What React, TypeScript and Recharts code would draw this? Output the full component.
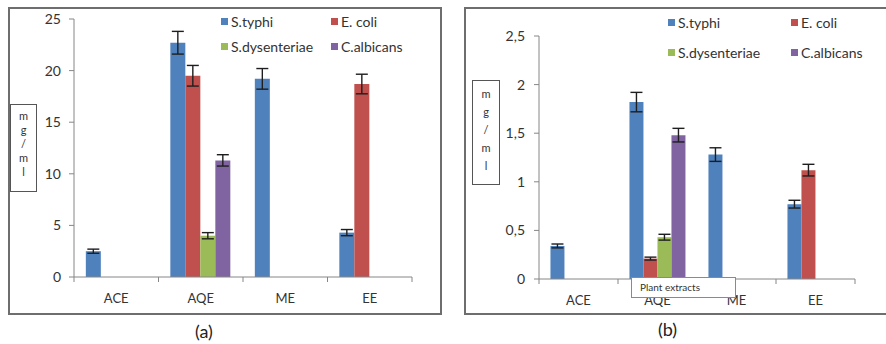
import React from "react";
import { Bar, BarChart, ErrorBar, Legend, XAxis, YAxis } from "recharts";

const categories = ["ACE", "AQE", "ME", "EE"];

// panel (a)
const typhiA = [2.5, 22.7, 19.2, 4.3];
const typhiErrA = [0.2, 1.1, 1.0, 0.3];
const ecoliA = [null, 19.5, null, 18.7];
const ecoliErrA = [null, 1.0, null, 0.95];
const dysA = [null, 4.0, null, null];
const dysErrA = [null, 0.3, null, null];
const albA = [null, 11.3, null, null];
const albErrA = [null, 0.55, null, null];
const ticksA = [0, 5, 10, 15, 20, 25];

// panel (b)
const typhiB = [0.34, 1.82, 1.28, 0.77];
const typhiErrB = [0.02, 0.1, 0.07, 0.04];
const ecoliB = [null, 0.21, null, 1.12];
const ecoliErrB = [null, 0.015, null, 0.06];
const dysB = [null, 0.43, null, null];
const dysErrB = [null, 0.03, null, null];
const albB = [null, 1.48, null, null];
const albErrB = [null, 0.07, null, null];
const ticksB = [0, 0.5, 1, 1.5, 2, 2.5];

const series = [
  { key: "typhi", name: "S.typhi", color: "#4F81BD" },
  { key: "ecoli", name: "E. coli", color: "#C0504D" },
  { key: "dys", name: "S.dysenteriae", color: "#9BBB59" },
  { key: "alb", name: "C.albicans", color: "#8064A2" },
];

const unitLetters = ["m", "g", "/", "m", "l"];

const FONT = "Lato, 'Open Sans', sans-serif";
const AXIS = "#868686";
const TEXT = "#333";

function buildRows(values: (number | null)[][], errors: (number | null)[][]) {
  return categories.map((name, i) => {
    const row: Record<string, string | number | null> = { name };
    series.forEach((s, k) => {
      row[s.key] = values[k][i];
      row[s.key + "Err"] = errors[k][i];
    });
    return row;
  });
}

const dataA = buildRows([typhiA, ecoliA, dysA, albA], [typhiErrA, ecoliErrA, dysErrA, albErrA]);
const dataB = buildRows([typhiB, ecoliB, dysB, albB], [typhiErrB, ecoliErrB, dysErrB, albErrB]);

// category label centred in its band, with the boundary tick on the left edge
function CategoryTick(props: any) {
  const { x, y, payload, index, visibleTicksCount } = props;
  const half = payload.offset ?? 0;
  const last = index === visibleTicksCount - 1;
  return (
    <g>
      <line x1={x - half} x2={x - half} y1={y} y2={y + 5} stroke={AXIS} />
      {last && <line x1={x + half} x2={x + half} y1={y} y2={y + 5} stroke={AXIS} />}
      <text x={x} y={y + 21} textAnchor="middle" dominantBaseline="central" fill={TEXT} fontSize={13} fontFamily={FONT}>
        {payload.value}
      </text>
    </g>
  );
}

// two-column legend, kept in series order
function LegendGrid({ payload, colWidth, rowHeight }: any) {
  const order = (v: string) => series.findIndex((s) => s.name === v);
  const items = [...(payload || [])].sort((a: any, b: any) => order(a.value) - order(b.value));
  return (
    <div style={{ display: "grid", gridTemplateColumns: `${colWidth}px ${colWidth}px`, gridAutoRows: rowHeight, fontFamily: FONT, fontSize: 14, color: TEXT }}>
      {items.map((p: any) => (
        <div key={p.value} style={{ display: "flex", alignItems: "center", whiteSpace: "nowrap" }}>
          <span style={{ width: 7, height: 7, background: p.color, marginRight: 3, display: "inline-block" }} />
          {p.value}
        </div>
      ))}
    </div>
  );
}

interface PanelProps {
  data: any[];
  ticks: number[];
  left: number;
  margin: { top: number; right: number; bottom: number; left: number };
  tickFormatter?: (v: number) => string;
  tickMargin: number;
  legendPos: { left: number; top: number; colWidth: number; rowHeight: number };
  gap: string;
}

function Panel({ data, ticks, left, margin, tickFormatter, tickMargin, legendPos, gap }: PanelProps) {
  return (
    <div style={{ position: "absolute", left, top: 0 }}>
      <BarChart width={443} height={344} data={data} margin={margin} barGap={0} barCategoryGap={gap}>
        <XAxis
          dataKey="name"
          axisLine={{ stroke: AXIS }}
          tickLine={false}
          tickSize={0}
          tickMargin={0}
          height={30}
          tick={<CategoryTick />}
          interval={0}
        />
        <YAxis
          width={40}
          domain={[ticks[0], ticks[ticks.length - 1]]}
          ticks={ticks}
          tickFormatter={tickFormatter}
          axisLine={{ stroke: AXIS }}
          tickLine={{ stroke: AXIS }}
          tickSize={5}
          tickMargin={tickMargin}
          tick={{ fill: TEXT, fontSize: 14, fontFamily: FONT }}
          allowDataOverflow
        />
        <Legend
          layout="horizontal"
          verticalAlign="middle"
          align="center"
          wrapperStyle={{ left: legendPos.left, top: legendPos.top, width: legendPos.colWidth * 2 }}
          content={(p: any) => <LegendGrid payload={p.payload} colWidth={legendPos.colWidth} rowHeight={legendPos.rowHeight} />}
        />
        {series.map((s) => (
          <Bar key={s.key} dataKey={s.key} name={s.name} fill={s.color} isAnimationActive={false}>
            <ErrorBar dataKey={s.key + "Err"} width={6} stroke="#1e1e1e" strokeWidth={1.4} direction="y" />
          </Bar>
        ))}
      </BarChart>
    </div>
  );
}

function UnitBox({ left, top, width, height, step }: { left: number; top: number; width: number; height: number; step: number }) {
  return (
    <div
      style={{
        position: "absolute", left, top, width, height, boxSizing: "border-box",
        border: "1.5px solid #555", background: "#fff", fontFamily: FONT, fontSize: 11, color: TEXT,
        display: "flex", flexDirection: "column", alignItems: "center", paddingTop: 4,
      }}
    >
      {unitLetters.map((c, i) => (
        <div key={i} style={{ height: step, lineHeight: `${step}px` }}>{c}</div>
      ))}
    </div>
  );
}

export default function App() {
  return (
    <div style={{ position: "absolute", left: 0, top: 0, width: 886, height: 344, background: "#fff", overflow: "hidden" }}>
      {/* panel frames */}
      <div style={{ position: "absolute", left: 8, top: 7, width: 434, height: 308, boxSizing: "border-box", border: "2px solid #6e6e6e" }} />
      <div style={{ position: "absolute", left: 464, top: 7, width: 440, height: 308, boxSizing: "border-box", border: "2px solid #6e6e6e" }} />

      <Panel
        data={dataA}
        ticks={ticksA}
        left={0}
        margin={{ top: 19, right: 31, bottom: 37, left: 34 }}
        tickMargin={8}
        legendPos={{ left: 221, top: 9, colWidth: 110, rowHeight: 25 }}
        gap="14%"
      />
      <Panel
        data={dataB}
        ticks={ticksB}
        left={443}
        margin={{ top: 36, right: 31, bottom: 35, left: 56 }}
        tickFormatter={(v: number) => String(v).replace(".", ",")}
        tickMargin={9}
        legendPos={{ left: 225, top: 7, colWidth: 123, rowHeight: 30 }}
        gap="14.5%"
      />

      <UnitBox left={10} top={104} width={27} height={88} step={14} />
      <UnitBox left={472} top={80} width={28} height={105} step={18} />

      <div
        style={{
          position: "absolute", left: 631, top: 277, width: 105, height: 21, boxSizing: "border-box",
          border: "1px solid #8a8a8a", background: "#fff", fontFamily: FONT, fontSize: 10, color: TEXT,
          paddingLeft: 8, lineHeight: "19px",
        }}
      >
        Plant extracts
      </div>

      <div style={{ position: "absolute", left: 195, top: 320, fontFamily: FONT, fontSize: 18, color: "#222" }}>(a)</div>
      <div style={{ position: "absolute", left: 658, top: 318, fontFamily: FONT, fontSize: 18, color: "#222" }}>(b)</div>
    </div>
  );
}
